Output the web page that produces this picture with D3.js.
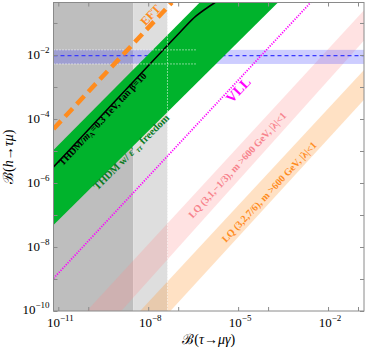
<!DOCTYPE html>
<html>
<head>
<meta charset="utf-8">
<script src="https://cdn.jsdelivr.net/npm/d3@7/dist/d3.min.js"></script>
<style>
body { margin: 0; background: #fff; }
svg text { font-family: "Liberation Serif", "DejaVu Serif", serif; }
</style>
</head>
<body>
<svg id="chart"></svg>
<script>
"use strict";

var Width = 366,
    Height = 350,
    PlotLeft = 53.5,
    PlotRight = 364,
    PlotTop = 2.5,
    PlotBottom = 311;

// every value below is a log10 exponent
var xDomain = [-11.16, -0.8],
    yDomain = [-10, -0.36],
    xTicksMajor = [-11, -8, -5, -2],
    xTicksMinor = [-10, -7, -4, -1],
    yTicksMajor = [-10, -8, -6, -4, -2],
    yTicksMinor = [-9, -7, -5, -3, -1],
    tauFuture = -8.5,          // projected B(tau->mu gamma)
    tauLimit = -7.357,         // 4.4e-8
    hBand = [-2.28, -1.84],    // B(h->tau mu) band
    hCentral = -2.02,
    hDotsEnd = -6.4,
    greenBand = [[-11.16, -4.97], [-6.28, -0.36], [-3.67, -0.36], [-11.16, -7.31]],
    thdmLine = [[-11.16, -5.5], [-6.93, -1.28], [-6.4, -0.78], [-5.77, -0.36]],
    eftLine = [[-11.16, -4.31], [-7.21, -0.36]],
    vllLine = [[-11.16, -8.98], [-2.58, -0.36]],
    lq1Upper = [[-10.05, -10], [-0.8, -0.6]],
    lq1Lower = [[-8.9, -10], [-0.8, -1.55]],
    lq2Upper = [[-8.27, -10], [-0.8, -2.47]],
    lq2Lower = [[-7.26, -10], [-0.8, -3.4]];

// label anchors: [log x, log y, log-log slope]
var eftLabel = [-7.93, -0.75, 1],
    thdmLabel = [-9.53, -4.0, 1],
    freeLabel = [-8.57, -5.03, 0.93],
    vllLabel = [-5.0, -3.09, 1],
    lq1Label = [-5.03, -5.44, 1.02],
    lq2Label = [-3.97, -6.28, 1];

function p10(e) { return Math.pow(10, e); }

var x = d3.scaleLog().domain(xDomain.map(p10)).range([PlotLeft, PlotRight]);
var y = d3.scaleLog().domain(yDomain.map(p10)).range([PlotBottom, PlotTop]);

var line = d3.line()
    .x(function (d) { return x(p10(d[0])); })
    .y(function (d) { return y(p10(d[1])); });

var svg = d3.select("#chart")
    .attr("width", Width)
    .attr("height", Height);

svg.append("defs").append("clipPath")
    .attr("id", "plotClip")
    .append("rect")
    .attr("x", PlotLeft)
    .attr("y", PlotTop)
    .attr("width", PlotRight - PlotLeft)
    .attr("height", PlotBottom - PlotTop);

var plot = svg.append("g").attr("clip-path", "url(#plotClip)");

// excluded regions in B(tau->mu gamma)
plot.append("rect")
    .attr("x", x(p10(xDomain[0])))
    .attr("y", PlotTop)
    .attr("width", x(p10(tauFuture)) - x(p10(xDomain[0])))
    .attr("height", PlotBottom - PlotTop)
    .attr("fill", "#bebebe");

plot.append("rect")
    .attr("x", x(p10(tauFuture)))
    .attr("y", PlotTop)
    .attr("width", x(p10(tauLimit)) - x(p10(tauFuture)))
    .attr("height", PlotBottom - PlotTop)
    .attr("fill", "#dedede");

function band(upper, lower) {
    return upper.concat(lower.slice().reverse());
}

plot.append("path")
    .attr("d", line(band(lq1Upper, lq1Lower)) + "Z")
    .attr("fill", "#ff8a8a")
    .attr("fill-opacity", 0.25);

plot.append("path")
    .attr("d", line(band(lq2Upper, lq2Lower)) + "Z")
    .attr("fill", "#ff9a3a")
    .attr("fill-opacity", 0.3);

// B(h->tau mu) band
plot.append("rect")
    .attr("x", PlotLeft)
    .attr("y", y(p10(hBand[1])))
    .attr("width", PlotRight - PlotLeft)
    .attr("height", y(p10(hBand[0])) - y(p10(hBand[1])))
    .attr("fill", "#5a5aff")
    .attr("fill-opacity", 0.3);

plot.append("line")
    .attr("x1", PlotLeft).attr("x2", PlotRight)
    .attr("y1", y(p10(hCentral))).attr("y2", y(p10(hCentral)))
    .attr("stroke", "#3a3aff")
    .attr("stroke-width", 1.2)
    .attr("stroke-dasharray", "4 3");

plot.append("path")
    .attr("d", line(greenBand) + "Z")
    .attr("fill", "#00b32c");

var smooth = d3.line()
    .x(function (d) { return x(p10(d[0])); })
    .y(function (d) { return y(p10(d[1])); })
    .curve(d3.curveCatmullRom);

plot.append("path")
    .attr("d", smooth(thdmLine))
    .attr("fill", "none")
    .attr("stroke", "#000")
    .attr("stroke-width", 1.6);

// white dotted guides
hBand.forEach(function (v) {
    plot.append("line")
        .attr("x1", PlotLeft).attr("x2", x(p10(hDotsEnd)))
        .attr("y1", y(p10(v))).attr("y2", y(p10(v)))
        .attr("stroke", "#fff")
        .attr("stroke-width", 1)
        .attr("stroke-dasharray", "1 2");
});

plot.append("line")
    .attr("x1", x(p10(tauLimit))).attr("x2", x(p10(tauLimit)))
    .attr("y1", PlotTop).attr("y2", PlotBottom)
    .attr("stroke", "#fff")
    .attr("stroke-width", 1)
    .attr("stroke-dasharray", "1 2");

plot.append("path")
    .attr("d", line(vllLine))
    .attr("fill", "none")
    .attr("stroke", "#ff00ff")
    .attr("stroke-width", 1.8)
    .attr("stroke-dasharray", "1.2 1.4");

plot.append("path")
    .attr("d", line(eftLine))
    .attr("fill", "none")
    .attr("stroke", "#ff8c1e")
    .attr("stroke-width", 4.5)
    .attr("stroke-dasharray", "11 6");

// labels rotated along the lines
function label(pos, size, color) {
    var ang = -Math.atan(pos[2] * (y(1e-10) - y(1e-9)) / (x(1e-10) - x(1e-11))) * 180 / Math.PI;
    return plot.append("text")
        .attr("transform", "translate(" + x(p10(pos[0])) + "," + y(p10(pos[1])) + ") rotate(" + ang + ")")
        .attr("text-anchor", "middle")
        .attr("dy", "0.35em")
        .attr("font-size", size)
        .attr("font-weight", "bold")
        .attr("fill", color);
}

label(eftLabel, 12, "#ff8c1e").text("EFT");

var t = label(thdmLabel, 9.8, "#000");
t.append("tspan").text("THDM/");
t.append("tspan").attr("font-style", "italic").text("m");
t.append("tspan").attr("font-size", 7).attr("dy", 2).text("A");
t.append("tspan").attr("dy", -2).text("=0.3 TeV, tan β=10");

var f = label(freeLabel, 10.5, "#0b7a22");
f.append("tspan").text("THDM w/ ");
f.append("tspan").attr("font-style", "italic").text("ε′");
f.append("tspan").attr("font-size", 7.5).attr("dy", 2).attr("font-style", "italic").text("ττ");
f.append("tspan").attr("dy", -2).text(" freedom");

label(vllLabel, 14, "#ff00ff").text("VLL");
label(lq1Label, 10, "#f7828c").text("LQ (3,1,−1/3), m >600 GeV, |λ|<1");
label(lq2Label, 10, "#ff8c1e").text("LQ (3,2,7/6), m >600 GeV, |λ|<1");

// frame and ticks
var frame = svg.append("g");
frame.append("rect")
    .attr("x", PlotLeft).attr("y", PlotTop)
    .attr("width", PlotRight - PlotLeft)
    .attr("height", PlotBottom - PlotTop)
    .attr("fill", "none")
    .attr("stroke", "#8a8a8a")
    .attr("stroke-width", 1);

function ticks(axis, vals, size, tr) {
    var g = frame.append("g")
        .attr("transform", tr)
        .call(axis.tickValues(vals.map(p10)).tickSize(-size).tickFormat(""));
    g.select(".domain").remove();
    g.selectAll("line").attr("stroke", "#8a8a8a");
}

var xAll = xTicksMajor.concat(xTicksMinor),
    yAll = yTicksMajor.concat(yTicksMinor);
ticks(d3.axisBottom(x), xAll, 4, "translate(0," + PlotBottom + ")");
ticks(d3.axisTop(x), xAll, 4, "translate(0," + PlotTop + ")");
ticks(d3.axisLeft(y), yAll, 4, "translate(" + PlotLeft + ",0)");
ticks(d3.axisRight(y), yAll, 4, "translate(" + PlotRight + ",0)");

xTicksMajor.forEach(function (e) {
    var tx = frame.append("text")
        .attr("x", x(p10(e)) + 2)
        .attr("y", 327)
        .attr("text-anchor", "middle")
        .attr("font-size", 13);
    tx.append("tspan").text("10");
    tx.append("tspan").attr("font-size", 9).attr("dy", -6).text("−" + (-e));
});

yTicksMajor.forEach(function (e) {
    var ty = frame.append("text")
        .attr("x", PlotLeft - 4)
        .attr("y", y(p10(e)) + 4.5 - (e === -10 ? 2 : 0))
        .attr("text-anchor", "end")
        .attr("font-size", 13);
    ty.append("tspan").text("10");
    ty.append("tspan").attr("font-size", 9).attr("dy", -6).text("−" + (-e));
});

var xt = frame.append("text")
    .attr("x", (PlotLeft + PlotRight) / 2)
    .attr("y", 344)
    .attr("text-anchor", "middle")
    .attr("font-size", 14);
xt.append("tspan").text("ℬ(");
xt.append("tspan").attr("font-style", "italic").text("τ");
xt.append("tspan").text("→");
xt.append("tspan").attr("font-style", "italic").text("μγ");
xt.append("tspan").text(")");

var yt = frame.append("text")
    .attr("transform", "translate(13," + ((PlotTop + PlotBottom) / 2) + ") rotate(-90)")
    .attr("text-anchor", "middle")
    .attr("font-size", 14);
yt.append("tspan").text("ℬ(");
yt.append("tspan").attr("font-style", "italic").text("h");
yt.append("tspan").text("→");
yt.append("tspan").attr("font-style", "italic").text("τμ");
yt.append("tspan").text(")");
</script>
</body>
</html>
